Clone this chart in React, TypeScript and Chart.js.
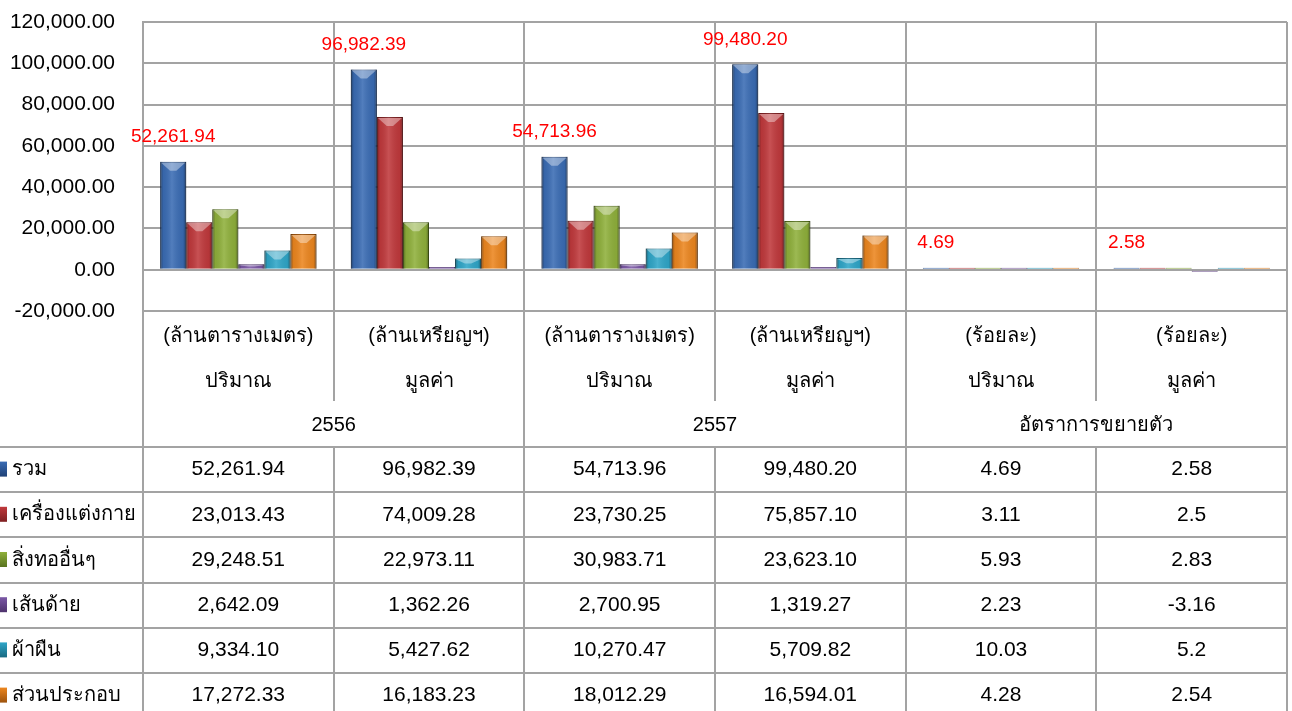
import React, { useEffect, useRef } from 'react';
import { Chart, registerables } from 'chart.js';

Chart.register(...registerables);

// ---- data ----
const units = ['(ล้านตารางเมตร)', '(ล้านเหรียญฯ)', '(ล้านตารางเมตร)', '(ล้านเหรียญฯ)', '(ร้อยละ)', '(ร้อยละ)'];
const measures = ['ปริมาณ', 'มูลค่า', 'ปริมาณ', 'มูลค่า', 'ปริมาณ', 'มูลค่า'];
const groups = ['2556', '2557', 'อัตราการขยายตัว'];
const seriesNames = ['รวม', 'เครื่องแต่งกาย', 'สิ่งทออื่นๆ', 'เส้นด้าย', 'ผ้าผืน', 'ส่วนประกอบ'];

const totalValues = [52261.94, 96982.39, 54713.96, 99480.2, 4.69, 2.58];
const apparelValues = [23013.43, 74009.28, 23730.25, 75857.1, 3.11, 2.5];
const otherTextileValues = [29248.51, 22973.11, 30983.71, 23623.1, 5.93, 2.83];
const yarnValues = [2642.09, 1362.26, 2700.95, 1319.27, 2.23, -3.16];
const fabricValues = [9334.1, 5427.62, 10270.47, 5709.82, 10.03, 5.2];
const accessoryValues = [17272.33, 16183.23, 18012.29, 16594.01, 4.28, 2.54];

const seriesValues = [totalValues, apparelValues, otherTextileValues, yarnValues, fabricValues, accessoryValues];

const yMin = -20000;
const yMax = 120000;
const yStep = 20000;

// ---- styles ----
const seriesColors = ['#3a6cb4', '#c0393c', '#8fb03b', '#7b58a6', '#2fa6c8', '#ec861f'];
const seriesDark = ['#1d3e72', '#7a1e20', '#56701e', '#4a3068', '#17657c', '#98500c'];
const FONT = "Tahoma, 'Liberation Sans', 'DejaVu Sans', sans-serif";
const GRID = '#a3a3a3';

const isPercent = (col: number) => units[col] === '(ร้อยละ)';
const fmt = (v: number, col: number) =>
  isPercent(col)
    ? String(v)
    : v.toLocaleString('en-US', { minimumFractionDigits: 2, maximumFractionDigits: 2 });

const barStylePlugin = {
  id: 'barStyle',
  afterDatasetsDraw(chart: any) {
    const ctx = chart.ctx;
    ctx.save();
    chart.data.datasets.forEach((_ds: any, di: number) => {
      const meta = chart.getDatasetMeta(di);
      meta.data.forEach((el: any) => {
        const { x, y, base, width } = el.getProps(['x', 'y', 'base', 'width'], true);
        const left = x - width / 2;
        const right = x + width / 2;
        const top = Math.min(y, base);
        const bottom = Math.max(y, base);
        const h = bottom - top;
        if (h < 4) return;
        const g = ctx.createLinearGradient(left, 0, right, 0);
        g.addColorStop(0, 'rgba(0,0,0,0.4)');
        g.addColorStop(0.12, 'rgba(0,0,0,0.06)');
        g.addColorStop(0.45, 'rgba(255,255,255,0.12)');
        g.addColorStop(0.88, 'rgba(0,0,0,0.06)');
        g.addColorStop(1, 'rgba(0,0,0,0.4)');
        ctx.fillStyle = g;
        ctx.fillRect(left, top, width, h);
        const bev = Math.min(9, h / 2);
        ctx.beginPath();
        ctx.moveTo(left + 1, top + 1);
        ctx.lineTo(right - 1, top + 1);
        ctx.lineTo(x + width * 0.12, top + bev);
        ctx.lineTo(x - width * 0.12, top + bev);
        ctx.closePath();
        ctx.fillStyle = 'rgba(255,255,255,0.38)';
        ctx.fill();
      });
    });
    // red value labels on the first series
    const meta0 = chart.getDatasetMeta(0);
    ctx.font = `19px ${FONT}`;
    ctx.fillStyle = '#ff0000';
    ctx.textAlign = 'center';
    ctx.textBaseline = 'middle';
    meta0.data.forEach((el: any, i: number) => {
      const { x, y } = el.getProps(['x', 'y'], true);
      ctx.fillText(fmt(totalValues[i], i), x, Math.min(y, chart.scales.y.getPixelForValue(0)) - 25);
    });
    ctx.restore();
  },
};

const tablePlugin = {
  id: 'dataTable',
  afterDraw(chart: any) {
    const { ctx, chartArea } = chart;
    const xs = chart.scales.x;
    const n = units.length;
    const step = xs.getPixelForValue(1) - xs.getPixelForValue(0);
    const bounds: number[] = [];
    for (let i = 0; i <= n; i++) bounds.push(xs.getPixelForValue(0) - step / 2 + i * step);
    const top = chartArea.bottom;
    const bottomY = chart.height + 2;
    const unitY = top + 25;
    const measY = top + 70;
    const groupY = top + 114;
    const innerEnd = top + 90;
    const rowTop = top + 136;
    const rowH = 45.2;

    ctx.save();
    ctx.strokeStyle = GRID;
    ctx.lineWidth = 2;
    ctx.beginPath();
    for (let i = 0; i <= n; i++) {
      const bx = Math.round(bounds[i]);
      if (i % 2 === 1) {
        ctx.moveTo(bx, top);
        ctx.lineTo(bx, innerEnd);
        ctx.moveTo(bx, rowTop);
        ctx.lineTo(bx, bottomY);
      } else {
        ctx.moveTo(bx, top);
        ctx.lineTo(bx, bottomY);
      }
    }
    for (let r = 0; r < seriesNames.length; r++) {
      const yy = Math.round(rowTop + r * rowH);
      ctx.moveTo(0, yy);
      ctx.lineTo(bounds[n] + 1, yy);
    }
    ctx.stroke();

    ctx.fillStyle = '#000';
    ctx.font = `20px ${FONT}`;
    ctx.textAlign = 'center';
    ctx.textBaseline = 'middle';
    for (let i = 0; i < n; i++) {
      const cx = (bounds[i] + bounds[i + 1]) / 2;
      ctx.fillText(units[i], cx, unitY);
      ctx.fillText(measures[i], cx, measY);
    }
    groups.forEach((g, gi) => {
      const cx = (bounds[gi * 2] + bounds[gi * 2 + 2]) / 2;
      ctx.fillText(g, cx, groupY);
    });

    for (let r = 0; r < seriesNames.length; r++) {
      const cy = rowTop + r * rowH + rowH / 2;
      // legend key
      const kg = ctx.createLinearGradient(0, cy - 8, 0, cy + 8);
      kg.addColorStop(0, seriesColors[r]);
      kg.addColorStop(1, seriesDark[r]);
      ctx.fillStyle = kg;
      ctx.fillRect(0, cy - 8, 7, 15);
      ctx.fillStyle = '#000';
      ctx.font = `20px ${FONT}`;
      ctx.textAlign = 'left';
      ctx.fillText(seriesNames[r], 12, cy);
      ctx.font = `21px ${FONT}`;
      ctx.textAlign = 'center';
      for (let i = 0; i < n; i++) {
        const cx = (bounds[i] + bounds[i + 1]) / 2;
        ctx.fillText(fmt(seriesValues[r][i], i), cx, cy);
      }
    }
    ctx.restore();
  },
};

export default function App() {
  const ref = useRef<HTMLCanvasElement | null>(null);
  useEffect(() => {
    document.body.style.margin = '0';
    if (!ref.current) return;
    const chart = new Chart(ref.current, {
      type: 'bar',
      data: {
        labels: units.map((u, i) => [u, measures[i]]),
        datasets: seriesNames.map((name, i) => ({
          label: name,
          data: seriesValues[i],
          backgroundColor: seriesColors[i],
          borderColor: seriesDark[i],
          borderWidth: 1,
          minBarLength: 2,
          barPercentage: 1,
          categoryPercentage: 0.82,
        })),
      },
      options: {
        responsive: false,
        animation: false,
        devicePixelRatio: 1,
        layout: { padding: { left: 0, right: 5, top: 22, bottom: 400 } },
        plugins: {
          legend: { display: false },
          tooltip: { enabled: false },
        },
        scales: {
          x: {
            offset: true,
            grid: { offset: true, color: GRID, lineWidth: 2, drawTicks: false },
            border: { color: GRID, width: 2 },
            ticks: { display: false },
          },
          y: {
            min: yMin,
            max: yMax,
            grid: { color: GRID, lineWidth: 2, drawTicks: false },
            border: { color: GRID, width: 2 },
            ticks: {
              stepSize: yStep,
              padding: 28,
              color: '#000',
              font: { family: FONT, size: 21 },
              callback: (v: any) =>
                Number(v).toLocaleString('en-US', { minimumFractionDigits: 2, maximumFractionDigits: 2 }),
            },
            afterFit: (scale: any) => {
              scale.width = 143;
              scale.paddingTop = 10;
              scale.paddingBottom = 10;
            },
          },
        },
      },
      plugins: [barStylePlugin, tablePlugin],
    });
    return () => chart.destroy();
  }, []);
  return (
    <div style={{ width: 1292, height: 711 }}>
      <canvas ref={ref} width={1292} height={711} style={{ display: 'block' }} />
    </div>
  );
}
